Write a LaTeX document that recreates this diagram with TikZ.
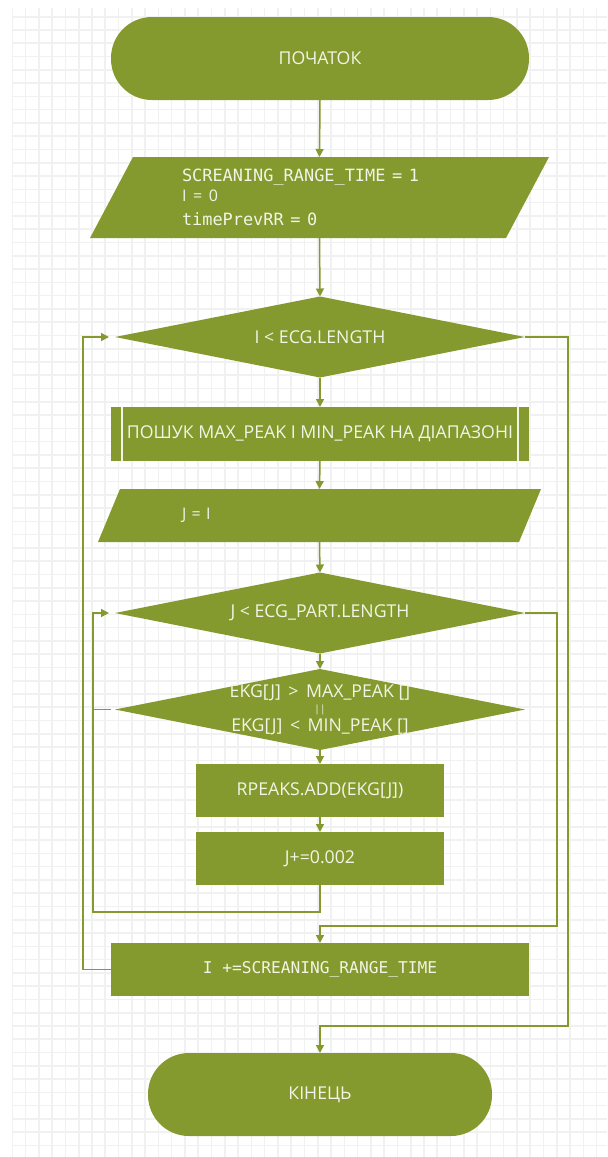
\documentclass[tikz,border=0pt]{standalone}
\usepackage{fontspec}
\setmainfont{Open Sans}
\newfontfamily\monof{DejaVu Sans Mono}
\usetikzlibrary{shapes.geometric,arrows.meta}
\definecolor{olive}{RGB}{133,154,46}
\definecolor{txt}{RGB}{242,244,230}
\definecolor{gridc}{RGB}{241,241,241}
\tikzset{
  base/.style={fill=olive, text=txt, inner sep=0pt, outer sep=0pt, font=\fontsize{8.85pt}{10pt}\selectfont},
  term/.style={base, rectangle, rounded corners=20.5pt, minimum height=41.5pt},
  proc/.style={base, rectangle, minimum height=26.5pt},
  decision/.style={base, diamond, aspect=5.06, minimum width=205pt, minimum height=40.5pt, align=center},
  io/.style={rectangle, text=txt, inner sep=0pt, outer sep=0pt, align=left,
    path picture={\fill[olive] ([xshift=#1]path picture bounding box.north west) -- (path picture bounding box.north east) -- ([xshift=-#1]path picture bounding box.south east) -- (path picture bounding box.south west) -- cycle;}},
  arr/.style={draw=olive, line width=0.75pt, -{Triangle[length=4pt,width=4pt]}},
  conn/.style={draw=olive, line width=0.75pt},
  gridline/.style={draw=gridc, line width=0.8pt}
}
\begin{document}
\begin{tikzpicture}[x=0.5pt,y=-0.5pt]
\useasboundingbox (0,0) rectangle (607,1157);
\fill[white] (0,0) rectangle (607,1157);
\begin{scope}
\clip (11.5,8) rectangle (607,1157);
\foreach \i in {0,...,45} \draw[gridline] ({12.3+\i*13.28},8) -- ({12.3+\i*13.28},1157);
\foreach \i in {0,...,86} \draw[gridline] (11.5,{16.7+\i*13.28}) -- (607,{16.7+\i*13.28});
\end{scope}

\node[term, minimum width=209pt] (start) at (320,58.5) {ПОЧАТОК};
\node[io=21.5pt, minimum height=40.5pt, inner xsep=46pt, text width=137.5pt] (p1) at (319.5,197.5)
  {\fontsize{8.45pt}{10pt}\selectfont{\monof SCREANING\_RANGE\_TIME = 1}\\{\fontsize{8pt}{10pt}\selectfont I = 0}\\{\monof timePrevRR = 0}};
\node[decision] (d1) at (320,337) {I < ECG.LENGTH};
\node[proc, minimum width=209pt, minimum height=27pt] (sub) at (320,434) {ПОШУК MAX\_PEAK I MIN\_PEAK НА ДІАПАЗОНІ};
\draw[txt, line width=0.7pt] ([xshift=5.5pt]sub.north west) -- ([xshift=5.5pt]sub.south west)
  ([xshift=-5.5pt]sub.north east) -- ([xshift=-5.5pt]sub.south east);
\node[io=11pt, minimum height=26.5pt, inner xsep=42pt, text width=137.5pt, font=\fontsize{8pt}{10pt}\selectfont] (p2) at (319.5,515.5) {J = I};
\node[decision] (d2) at (320,613) {J < ECG\_PART.LENGTH};
\node[decision] (d3) at (320,709.5) {};
\node[text=txt, inner sep=0pt, align=center, font=\fontsize{8.85pt}{8.5pt}\selectfont] (d3t) at (d3.center) {EKG[J] \,>\, MAX\_PEAK []\\[-1pt]{\fontsize{5pt}{5pt}\selectfont ||}\\[1pt]EKG[J] \,<\, MIN\_PEAK []};
\node[proc, minimum width=124pt] (rp) at (320,790.5) {RPEAKS.ADD(EKG[J])};
\node[proc, minimum width=124pt] (jp) at (320,858.5) {J+=0.002};
\node[proc, minimum width=209pt] (ip) at (320,969.5) {\fontsize{8.1pt}{10pt}\selectfont\monof I +=SCREANING\_RANGE\_TIME};
\node[term, minimum width=172pt] (end) at (320,1094.5) {КІНЕЦЬ};

\coordinate (c9) at (93,912);
\coordinate (c10) at (93,709.5);
\coordinate (c11) at (557,926);
\coordinate (c12) at (83,337);
\coordinate (c13) at (568,1026);

\draw[arr] (start.south) -- (p1.north);
\draw[arr] (p1.south) -- (d1.north);
\draw[arr] (d1.south) -- (sub.north);
\draw[arr] (sub.south) -- (p2.north);
\draw[arr] (p2.south) -- (d2.north);
\draw[arr] (d2.south) -- (d3.north);
\draw[arr] (d3.south) -- (rp.north);
\draw[arr] (rp.south) -- (jp.north);
\draw[arr, shorten >=3pt] (jp.south) |- (c9) |- (d2.west);
\draw[conn, shorten <=2pt] (d3.west) -- (c10);
\draw[arr] (d2.east) -| (c11) -| (ip.north);
\draw[arr, shorten >=3pt] (ip.west) -| (c12) -- (d1.west);
\draw[arr] (d1.east) -| (c13) -| (end.north);
\end{tikzpicture}
\end{document}
